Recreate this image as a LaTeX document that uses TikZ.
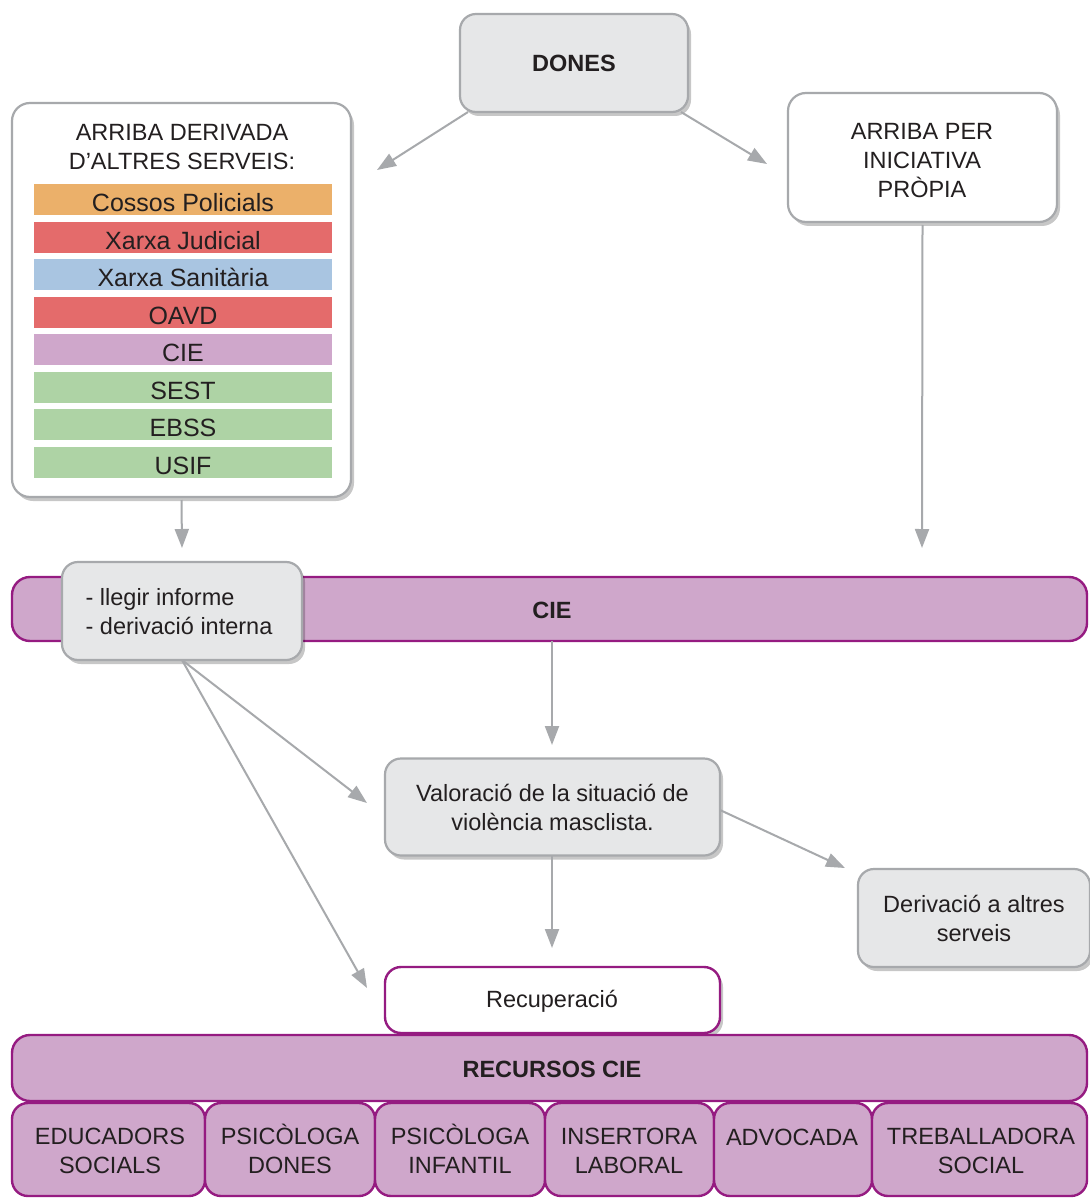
\documentclass[tikz,border=0pt]{standalone}
\usepackage{fontspec}
\setmainfont{Liberation Sans}
\usetikzlibrary{arrows.meta,shadows}
\definecolor{boxgray}{HTML}{E6E7E8}
\definecolor{linegray}{HTML}{A7A9AC}
\definecolor{purfill}{HTML}{CFA7CB}
\definecolor{purline}{HTML}{951B81}
\definecolor{corange}{HTML}{EBB06A}
\definecolor{cred}{HTML}{E46B6B}
\definecolor{cblue}{HTML}{A9C5E1}
\definecolor{cgreen}{HTML}{AED3A5}
\definecolor{ink}{HTML}{231F20}
\begin{document}
\begin{tikzpicture}[x=1pt,y=-1pt,
  every node/.style={text=ink, font=\fontsize{23.5}{29}\selectfont, inner sep=0pt, outer sep=0pt},
  shad/.style={drop shadow={shadow xshift=3pt, shadow yshift=-4pt, fill=black, opacity=0.22}},
  graybox/.style={draw=linegray, fill=boxgray, line width=2.2pt, rounded corners=16pt, shad, align=center},
  whitebox/.style={draw=linegray, fill=white, line width=2.2pt, rounded corners=18pt, shad, align=center},
  purband/.style={draw=purline, fill=purfill, line width=2.4pt, rounded corners=18pt},
  purcell/.style={draw=purline, fill=purfill, line width=2.4pt, rounded corners=16pt, minimum height=93pt},
  bar/.style={minimum width=298pt, minimum height=31pt},
  bartxt/.style={font=\fontsize{25}{29}\selectfont},
  txt/.style={align=center},
  arr/.style={draw=linegray, line width=2pt, -{Triangle[length=19pt,width=14pt]}},
  lin/.style={draw=linegray, line width=2pt}
]
\useasboundingbox[fill=white] (0,0) rectangle (1089,1198);

% Top
\node[graybox, minimum width=228pt, minimum height=98pt, font=\fontsize{23.5}{29}\selectfont\bfseries] (dones) at (574,63) {DONES};

\node[whitebox, minimum width=339pt, minimum height=394pt] (left) at (181.5,300) {};
\node[txt] (lefttxt) at (182,147) {ARRIBA DERIVADA\\D’ALTRES SERVEIS:};
\node[bar, fill=corange] (b1) at (183,200) {};
\node[bar, fill=cred] (b2) at (183,237.5) {};
\node[bar, fill=cblue] (b3) at (183,274.5) {};
\node[bar, fill=cred] (b4) at (183,312.5) {};
\node[bar, fill=purfill] (b5) at (183,349.5) {};
\node[bar, fill=cgreen] (b6) at (183,387.5) {};
\node[bar, fill=cgreen] (b7) at (183,424.5) {};
\node[bar, fill=cgreen] (b8) at (183,462.5) {};
\node[bartxt, anchor=base] (bt1) at (183,212) {Cossos Policials};
\node[bartxt, anchor=base] (bt2) at (183,249.5) {Xarxa Judicial};
\node[bartxt, anchor=base] (bt3) at (183,286.5) {Xarxa Sanitària};
\node[bartxt, anchor=base] (bt4) at (183,324.5) {OAVD};
\node[bartxt, anchor=base] (bt5) at (183,361.5) {CIE};
\node[bartxt, anchor=base] (bt6) at (183,399.5) {SEST};
\node[bartxt, anchor=base] (bt7) at (183,436.5) {EBSS};
\node[bartxt, anchor=base] (bt8) at (183,474.5) {USIF};

\node[whitebox, minimum width=269pt, minimum height=129pt] (right) at (922.5,157.5) {};
\node[txt] (righttxt) at (922,161) {ARRIBA PER\\INICIATIVA\\PRÒPIA};

\coordinate (tipL) at (377,170);
\coordinate (tipR) at (767,164);
\draw[arr] ([xshift=8pt]dones.south west) -- (tipL);
\draw[arr] ([xshift=-7pt]dones.south east) -- (tipR);

\coordinate (tipLd) at (182,548);
\coordinate (tipRd) at (922,548);
\draw[arr] ([yshift=-3pt]left.south) -- (tipLd);
\draw[arr] ([yshift=-3pt]right.south) -- (tipRd);

% CIE band
\node[purband, minimum width=1075pt, minimum height=64pt] (cie) at (549.5,609) {};
\node[font=\fontsize{23.5}{29}\selectfont\bfseries] (cietxt) at (552,610) {CIE};
\node[graybox, minimum width=240pt, minimum height=98pt] (llegir) at (182,611) {};
\node[align=left] (llegirtxt) at (179,612) {- llegir informe\\- derivació interna};

% middle
\node[graybox, minimum width=335pt, minimum height=97pt] (valor) at (552.5,807) {Valoració de la situació de\\violència masclista.};
\node[graybox, minimum width=232pt, minimum height=98pt] (deriv) at (974,918) {Derivació a altres\\serveis};
\node[draw=purline, fill=white, line width=2.4pt, rounded corners=16pt, shad, minimum width=335pt, minimum height=66pt] (recup) at (552.5,1000) {};
\node (recuptxt) at (552,1001) {Recuperació};

\coordinate (tipV) at (552,745);
\draw[arr] ([xshift=2.5pt]cie.south) -- (tipV);
\coordinate (tipVal) at (367,803);
\coordinate (tipRec) at (367,988);
\draw[arr] (llegir.south) -- (tipVal);
\draw[arr] (llegir.south) -- (tipRec);
\coordinate (tipD) at (845,868);
\draw[arr] ([yshift=-3pt]valor.east) -- (tipD);
\coordinate (tipR2) at (552,948);
\draw[arr] ([xshift=-0.5pt]valor.south) -- (tipR2);

% Recursos
\node[purband, minimum width=1075pt, minimum height=66pt] (rec) at (549.5,1068) {};
\node[font=\fontsize{23.5}{29}\selectfont\bfseries] (rectxt) at (552,1069) {RECURSOS CIE};

\node[purcell, minimum width=193pt] (c1) at (108.5,1149.5) {};
\node[purcell, minimum width=170pt] (c2) at (290,1149.5) {};
\node[purcell, minimum width=170pt] (c3) at (460,1149.5) {};
\node[purcell, minimum width=169pt] (c4) at (629.5,1149.5) {};
\node[purcell, minimum width=158pt] (c5) at (793,1149.5) {};
\node[purcell, minimum width=215pt] (c6) at (979.5,1149.5) {};
\node[txt] (t1) at (110,1151) {EDUCADORS\\SOCIALS};
\node[txt] (t2) at (290,1151) {PSIC\smash{Ò}LOGA\\DONES};
\node[txt] (t3) at (460,1151) {PSIC\smash{Ò}LOGA\\INFANTIL};
\node[txt] (t4) at (629,1151) {INSERTORA\\LABORAL};
\node[txt] (t5) at (792,1137) {ADVOCADA};
\node[txt] (t6) at (981,1151) {TREBALLADORA\\SOCIAL};
\end{tikzpicture}
\end{document}
